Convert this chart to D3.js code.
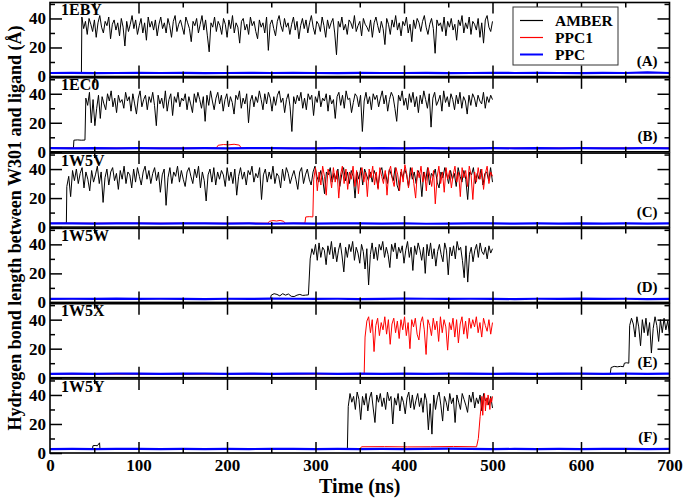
<!DOCTYPE html>
<html>
<head>
<meta charset="utf-8">
<script src="https://cdn.jsdelivr.net/npm/d3@7"></script>
<style>
  body { margin: 0; background: #fff; }
  svg { display: block; font-family: "Liberation Serif", "Times New Roman", serif; font-weight: bold; }
</style>
</head>
<body>
<svg id="chart" width="685" height="498"></svg>
<script>
/* Stacked H-bond distance traces, six complexes, three force fields */

const panelNames = ['1EBY', '1EC0', '1W5V', '1W5W', '1W5X', '1W5Y'];
const panelTags  = ['(A)', '(B)', '(C)', '(D)', '(E)', '(F)'];
const seriesNames = ['AMBER', 'PPC1', 'PPC'];
const xMajor = [0, 100, 200, 300, 400, 500, 600, 700];
const xMinor = [50, 150, 250, 350, 450, 550, 650];
const yMajor = [0, 20, 40];
const yMinor = [10, 30, 50];

// each run: [t start (ns), t end (ns), values spread evenly between]
const amberA = [
  [0, 35.5, [2.5, 2.6, 2.5]],
  [36, 500, [
    41,33,38,29,40,36,31,39,27,37,42,34,30,38,35,41,26,36,39,32,
    37,28,40,34,21,38,31,36,42,33,39,29,35,40,30,37,25,41,34,38,
    32,39,28,36,41,33,37,30,40,35,27,38,42,31,36,39,34,29,41,37,
    33,24,38,35,40,30,36,42,32,39,28,17,37,34,41,31,38,35,29,40,
    36,27,39,33,42,30,37,34,23,38,40,32,36,29,41,35,38,31,26,39,
    34,37,30,41,18,36,39,33,28,38,42,35,31,40,34,37,29,36,41,32,
    38,26,35,40,33,39,30,37,42,34,29,38,36,31,41,35,27,39,33,37,
    40,30,15,38,34,41,32,36,29,39,37,33,42,31,35,38,28,40,36,34,
    31,39,27,37,41,35,30,38,33,22,40,36,29,39,34,42,32,37,28,38,
    35,41,30,36,24,39,33,40,37,31,38,42,34,29,36,40,33,16,39,35,
    37,31,41,28,38,34,40,32,36,25,39,35,42,30,37,33,41,29,38,36,
    32,40,27,37,23,39,42,34,31,38]]
];
const amberB = [
  [0, 26.5, [2.5, 2.6]],
  [27, 39.5, [8, 8.2, 8, 8.1]],
  [40.5, 500, [
    37,32,41,20,36,18,30,39,23,38,33,29,40,35,42,31,37,27,39,34,
    36,30,41,35,38,28,40,33,26,37,42,31,36,39,29,38,34,41,32,18,
    39,33,37,30,42,28,36,40,25,38,34,41,31,37,35,40,29,38,33,27,
    40,34,41,36,30,38,21,39,32,42,35,29,37,41,33,39,28,36,40,31,
    38,34,26,39,36,42,30,37,33,40,20,35,39,31,38,34,42,36,29,40,
    33,41,37,28,38,32,39,42,34,37,27,36,40,31,14,38,33,39,35,41,
    30,37,29,40,36,39,25,38,34,42,31,37,35,40,28,39,33,36,23,38,
    41,32,39,30,42,36,37,27,34,40,38,31,39,14,35,41,33,38,29,40,
    36,39,31,37,42,33,39,28,36,41,38,30,21,39,35,42,32,37,29,40,
    34,41,31,38,27,39,33,42,36,30,40,17,37,41,32,35,39,28,42,34,
    38,31,40,36,29,39,33,41,30,38,35,26,39,32,40,37,31,39,35,33,
    41,30,38,34,39,36]]
];
const amberC = [
  [0, 18.5, [2.5, 2.6]],
  [19, 500, [
    28,35,21,39,32,40,30,37,41,27,38,33,25,39,31,36,42,30,38,17,
    34,40,29,38,41,32,37,26,39,33,42,30,38,36,27,40,31,41,35,29,
    38,42,33,39,30,37,41,32,38,24,36,40,15,34,41,30,38,35,42,31,
    39,33,28,38,41,35,30,40,34,42,27,38,32,18,36,40,31,41,29,38,
    33,39,36,28,41,32,38,30,40,22,35,41,33,38,29,39,36,42,31,37,
    34,41,19,36,40,31,38,33,42,30,37,35,27,40,32,41,37,30,35,39,
    33,26,38,41,30,36,40,33,29,38,42,35,31,39,34,23,38,36,41,31,
    37,33,40,28,36,41,32,38,30,39,35,20,38,33,41,29,40,36,32,38,
    31,39,35,27,38,41,33,37,30,40,36,32,41,29,25,38,34,40,36,28,
    41,33,38,30,39,36,21,38,32,41,29,37,35,40,31,27,38,34,41,36,
    30,39,33,37,28,41,35,31,39,33,19,38,36,41,30,37,33,40,29,37,
    38,32,41,31]]
];
const amberD = [
  [0, 249, [2.5, 2.6, 2.5, 2.6]],
  [250, 292, [5, 6, 5.5, 4.5, 6, 5, 5.8, 4.2, 4, 5, 5.5, 4.8, 5, 5.2]],
  [294, 500, [
    30,37,33,40,29,41,31,38,36,26,39,33,42,30,38,28,36,41,32,21,
    38,31,40,35,42,29,38,34,27,40,35,23,37,12,33,41,30,38,29,40,
    36,42,31,38,33,24,40,35,41,30,38,34,39,27,36,42,31,38,22,39,
    33,41,36,29,38,20,40,32,41,30,37,25,35,40,33,28,41,36,19,38,
    32,39,30,42,36,38,29,17,39,14,33,38,28,36,40,31,41,35,33,38,
    30,39,34,37]]
];
const amberE = [
  [0, 633, [2.5, 2.6, 2.5]],
  [634, 648, [7, 7.8, 7.5, 7.8, 7.6]],
  [649, 654, [10, 10.3, 10]],
  [655, 700, [36,41,37,28,42,35,22,40,31,41,29,38,17,34,42,36,25,40,31,41,33,39,30]]
];
const amberF = [
  [0, 48, [2.5, 2.6]],
  [48.5, 56, [5, 5.2, 5, 7]],
  [56.5, 336, [2.5, 2.6, 2.5]],
  [337, 500, [
    32,41,35,39,30,42,37,23,39,33,41,29,38,42,31,21,40,35,41,32,
    38,30,42,36,39,20,38,33,41,29,39,35,27,38,42,31,40,30,36,41,
    32,38,28,41,36,16,34,13,40,30,38,42,33,22,39,35,29,41,34,38,
    21,40,35,30,41,37,33,28,40,35,42,31,38,34,40,29,41,36,38,33,
    39,31]]
];

const ppc1A = [[0, 700, [2.6, 2.7, 2.6]]];
const ppc1B = [
  [0, 188, [2.6, 2.7]],
  [190, 214, [4.5, 5, 4.8, 5.2, 4.6]],
  [216, 700, [2.6, 2.7]]
];
const ppc1C = [
  [0, 246, [2.6, 2.7, 2.6, 2.7]],
  [248, 264, [4, 4.5, 4.2, 4.6, 4]],
  [266, 288, [2.6, 2.7]],
  [289, 297, [7, 7.2, 7]],
  [298, 500, [
    33,41,25,38,29,42,35,22,40,36,27,41,31,39,20,36,42,30,40,26,
    38,33,42,28,39,23,37,41,31,38,21,40,34,42,29,38,26,41,35,30,
    39,22,38,42,33,28,41,36,25,40,31,43,37,27,36,41,30,20,39,34,
    42,31,38,25,41,35,28,39,16,34,42,30,38,24,41,33,39,27,36,42,
    31,38,21,41,34,39,28,42,36,19,38,31,41,33,40,26,37,42,30,38,
    35]]
];
const ppc1D = [[0, 700, [2.6, 2.7, 2.6]]];
const ppc1E = [
  [0, 355, [2.6, 2.7, 2.6]],
  [356, 500, [
    28,39,42,31,40,18,36,41,29,38,33,42,30,40,23,37,41,31,39,27,
    40,33,42,29,38,20,40,35,41,30,26,38,42,33,16,40,36,29,41,33,
    39,25,42,31,40,35,19,38,33,41,28,40,24,37,42,30,39,27,41,34,
    40,35,42,31,38,28,41,36,32,40,30,38]]
];
const ppc1F = [
  [0, 350, [2.6, 2.7, 2.6]],
  [352, 482, [4.3, 4.4, 4.2, 4.3, 4.5, 4.3]],
  [484, 486, [10, 25]],
  [487, 500, [31,39,26,37,41,29,38,33,40,36,30,38,35,39]]
];

const ppcA = [[0, 700, [2.4,2.5,2.3,2.4,2.6,2.4,2.5,2.3,2.4,2.5,2.4,2.6,2.4,2.3,2.5,2.4,2.4,2.5,2.3,2.4,2.6,2.4,2.5,2.4,2.3,2.5,2.4,2.8,2.4]]];
const ppcB = [[0, 700, [2.5,2.4,2.6,2.4,2.5,2.3,2.4,2.5,2.4,2.6,2.5,2.4,2.3,2.5,2.4,2.6,2.4,2.5,2.4,2.3,2.5,2.4,2.6,2.4,2.5,2.4,2.3,2.5,2.4]]];
const ppcC = [[0, 700, [2.6,2.5,2.4,2.6,2.5,2.4,2.5,2.6,2.4,2.5,2.3,2.5,2.4,2.6,2.5,2.4,2.5,2.3,2.4,2.5,2.6,2.4,2.5,2.4,2.6,2.4,2.5,2.4,2.5]]];
const ppcD = [[0, 700, [2.4,2.5,2.4,2.6,2.4,2.5,2.4,2.3,2.5,2.4,2.6,2.5,2.4,2.5,2.3,2.4,2.6,2.5,2.4,2.5,2.4,2.3,2.5,2.4,2.6,2.4,2.5,2.3,2.4]]];
const ppcE = [[0, 700, [2.7,2.8,2.7,2.9,2.8,2.7,2.8,2.9,2.7,2.8,2.7,2.8,2.9,2.7,2.8,2.7,2.8,2.7,2.9,2.8,2.7,2.8,2.7,2.8,2.9,2.7,2.8,2.7,2.8]]];
const ppcF = [[0, 700, [2.7,2.8,2.7,2.8,2.9,2.7,2.8,2.7,2.8,2.7,2.9,2.8,2.7,2.8,2.7,2.8,2.7,2.9,3.0,2.8,2.7,2.8,2.7,2.8,2.7,2.8,2.9,2.7,2.8]]];

const amberRuns = [amberA, amberB, amberC, amberD, amberE, amberF];
const ppc1Runs  = [ppc1A, ppc1B, ppc1C, ppc1D, ppc1E, ppc1F];
const ppcRuns   = [ppcA, ppcB, ppcC, ppcD, ppcE, ppcF];

// ── layout ──
const TOP = 2.5;
const PANEL = { h: 74, gap: 1.3 };
const FONT = 'Liberation Serif, Times New Roman, serif';
const STYLE = [
  { color: '#000000', width: 1 },
  { color: '#ff0000', width: 1 },
  { color: '#0000ff', width: 2.2 }
];

const svg = d3.select('#chart');
const x = d3.scaleLinear().domain([0, 700]).range([50, 669.5]);
const y = d3.scaleLinear().domain([0, 51]).range([PANEL.h, 0]);

const expand = runs => runs.flatMap(([t0, t1, vals]) =>
  vals.map((v, i) => [vals.length > 1 ? t0 + (t1 - t0) * i / (vals.length - 1) : t0, v]));

const line = d3.line().x(d => x(d[0])).y(d => y(d[1]));

function styleAxis(sel) {
  sel.select('.domain').remove();
  sel.attr('font-family', FONT).attr('font-size', 17).attr('font-weight', 'bold');
  sel.selectAll('.tick line').attr('stroke', '#000').attr('stroke-width', 1.5);
  sel.selectAll('.tick text').attr('fill', '#000');
}

panelNames.forEach((name, i) => {
  const g = svg.append('g').attr('transform', `translate(0,${TOP + i * (PANEL.h + PANEL.gap)})`);
  const last = i === panelNames.length - 1;

  // traces: AMBER under PPC1 under PPC
  [amberRuns[i], ppc1Runs[i], ppcRuns[i]].forEach((runs, k) => {
    g.append('path')
      .datum(expand(runs))
      .attr('d', line)
      .attr('fill', 'none')
      .attr('stroke', STYLE[k].color)
      .attr('stroke-width', STYLE[k].width)
      .attr('stroke-linejoin', 'round');
  });

  // y axes, ticks inward on both sides
  g.append('g').attr('transform', `translate(${x(0)},0)`)
    .call(d3.axisLeft(y).tickValues(yMajor).tickSize(-12).tickPadding(4).tickFormat(d3.format('d')))
    .call(styleAxis);
  g.append('g').attr('transform', `translate(${x(0)},0)`)
    .call(d3.axisLeft(y).tickValues(yMinor).tickSize(-5).tickFormat(''))
    .call(styleAxis);
  g.append('g').attr('transform', `translate(${x(700)},0)`)
    .call(d3.axisRight(y).tickValues(yMajor.filter(v => v > 0)).tickSize(-12).tickFormat(''))
    .call(styleAxis);
  g.append('g').attr('transform', `translate(${x(700)},0)`)
    .call(d3.axisRight(y).tickValues(yMinor).tickSize(-5).tickFormat(''))
    .call(styleAxis);

  // x axes, top and bottom of every panel
  g.append('g').attr('transform', `translate(0,${PANEL.h})`)
    .call(d3.axisBottom(x).tickValues(xMajor.slice(1, -1)).tickSize(-11).tickFormat(''))
    .call(styleAxis);
  g.append('g').attr('transform', `translate(0,${PANEL.h})`)
    .call(d3.axisBottom(x).tickValues(xMinor).tickSize(-5).tickFormat(''))
    .call(styleAxis);
  g.append('g')
    .call(d3.axisTop(x).tickValues(xMajor.slice(1, -1)).tickSize(-11).tickFormat(''))
    .call(styleAxis);
  g.append('g')
    .call(d3.axisTop(x).tickValues(xMinor).tickSize(-5).tickFormat(''))
    .call(styleAxis);

  if (last) {
    g.append('g').attr('transform', `translate(0,${PANEL.h})`)
      .call(d3.axisBottom(x).tickValues(xMajor).tickSize(0).tickPadding(6).tickFormat(d3.format('d')))
      .call(styleAxis);
  }

  // frame
  g.append('rect')
    .attr('x', x(0)).attr('y', 0)
    .attr('width', x(700) - x(0)).attr('height', PANEL.h)
    .attr('fill', 'none').attr('stroke', '#000').attr('stroke-width', 1.6);

  // complex name + panel letter
  g.append('text')
    .attr('x', x(0) + 11).attr('y', 12.5)
    .attr('font-size', 16)
    .text(name);
  g.append('text')
    .attr('x', x(700) - 12).attr('y', y(10) + 4)
    .attr('text-anchor', 'end')
    .attr('font-size', 15)
    .text(panelTags[i]);

  // legend sits in the first panel
  if (i === 0) {
    const lg = g.append('g').attr('transform', 'translate(513,4.5)');
    lg.append('rect')
      .attr('width', 105).attr('height', 58)
      .attr('fill', '#fff').attr('stroke', '#333').attr('stroke-width', 1);
    seriesNames.forEach((s, k) => {
      const ry = 13.5 + k * 17;
      lg.append('line')
        .attr('x1', 7).attr('x2', 30).attr('y1', ry).attr('y2', ry)
        .attr('stroke', STYLE[k].color).attr('stroke-width', k === 2 ? 2 : 1.2);
      lg.append('text')
        .attr('x', 42).attr('y', ry + 5)
        .attr('font-size', 15.5)
        .text(s);
    });
  }
});

// axis titles
svg.append('text')
  .attr('transform', 'translate(21,228) rotate(-90)')
  .attr('text-anchor', 'middle')
  .attr('font-size', 18)
  .text('Hydrogen bond length between W301 and ligand (Å)');

svg.append('text')
  .attr('x', (x(0) + x(700)) / 2).attr('y', 493)
  .attr('text-anchor', 'middle')
  .attr('font-size', 20)
  .text('Time (ns)');
</script>
</body>
</html>
